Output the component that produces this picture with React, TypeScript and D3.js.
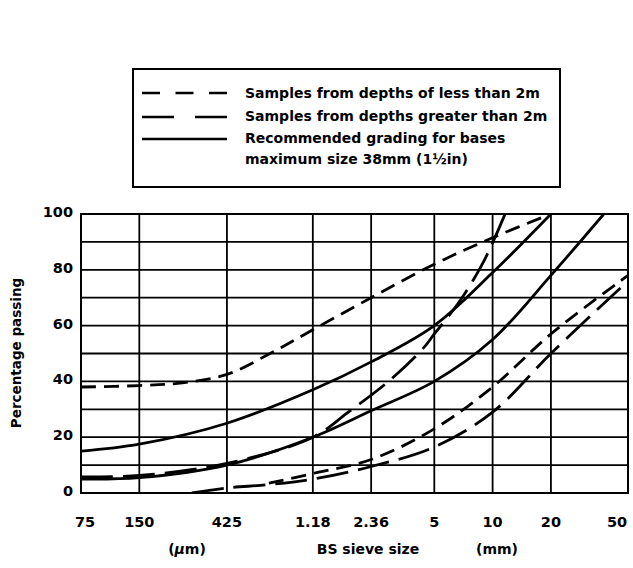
import React from 'react';
import * as d3 from 'd3';

// ---- data ----
const sieveSizes = [0.075, 0.15, 0.425, 1.18, 2.36, 5, 10, 20, 50];
const sieveLabels = ['75', '150', '425', '1.18', '2.36', '5', '10', '20', '50'];
const yTickValues = [0, 20, 40, 60, 80, 100];
const yGridValues = [0, 10, 20, 30, 40, 50, 60, 70, 80, 90, 100];

// Recommended grading (solid)
const upperSolidSize = [0.075, 0.15, 0.425, 1.18, 2.36, 5, 10, 20];
const upperSolidPct = [15, 17.5, 25, 37, 47, 60, 79, 100];
const lowerSolidSize = [0.075, 0.15, 0.425, 1.18, 2.36, 5, 10, 20, 37.5];
const lowerSolidPct = [5, 5.5, 10, 20, 29.5, 40, 55, 78, 100];

// Samples from depths of less than 2m (short dashes)
const shallowUpperSize = [0.075, 0.15, 0.25, 0.425, 0.71, 1.18, 2.36, 5, 10, 20];
const shallowUpperPct = [38, 38.5, 39.5, 42.5, 50, 58.5, 70, 82, 91.5, 100];
const shallowLowerSize = [0.7, 1.18, 2.36, 5, 10, 20, 50];
const shallowLowerPct = [3.5, 7, 12, 23, 38, 57, 78];

// Samples from depths greater than 2m (long dashes)
const deepUpperSize = [0.075, 0.15, 0.425, 1.18, 1.8, 2.9, 4.4, 5, 6.8, 9, 11.6];
const deepUpperPct = [5.8, 6.3, 10.6, 20, 29, 40, 52, 57, 69, 83, 100];
const deepLowerSize = [0.28, 0.425, 0.7, 1.18, 2.36, 5, 10, 20, 50];
const deepLowerPct = [0, 1.8, 3, 5, 9.5, 16.5, 29, 50, 76];

const legendLabels = [
  'Samples from depths of less than 2m',
  'Samples from depths greater than 2m',
  'Recommended grading for bases',
  'maximum size 38mm (1\u00BDin)',
];

const W = 633;
const H = 568;
const plot = { left: 81, right: 628, top: 214, bottom: 493 };
const FONT = '"DejaVu Sans", Verdana, sans-serif';
const SHORT_DASH = '15 8';
const LONG_DASH = '32 10';

export default function App() {
  const x = d3.scaleLog().domain([0.075, 50]).range([plot.left, plot.right]);
  const y = d3.scaleLinear().domain([0, 100]).range([plot.bottom, plot.top]);

  const line = d3
    .line<[number, number]>()
    .x((d) => x(d[0]))
    .y((d) => y(d[1]))
    .curve(d3.curveCatmullRom.alpha(0.5));

  const zip = (s: number[], p: number[]) => s.map((v, i) => [v, p[i]] as [number, number]);

  const curves = [
    { pts: zip(upperSolidSize, upperSolidPct), dash: undefined },
    { pts: zip(lowerSolidSize, lowerSolidPct), dash: undefined },
    { pts: zip(shallowUpperSize, shallowUpperPct), dash: SHORT_DASH },
    { pts: zip(shallowLowerSize, shallowLowerPct), dash: SHORT_DASH },
    { pts: zip(deepUpperSize, deepUpperPct), dash: LONG_DASH },
    { pts: zip(deepLowerSize, deepLowerPct), dash: LONG_DASH },
  ];

  const labelX = (v: number, i: number) => {
    if (i === 0) return x(v) + 4;
    if (i === sieveSizes.length - 1) return x(v) - 11;
    return x(v);
  };

  const legendRows = [
    { y: 93, dash: '18 15.5' },
    { y: 117, dash: '32 21' },
    { y: 139, dash: undefined },
  ];

  return (
    <svg
      width={W}
      height={H}
      viewBox={`0 0 ${W} ${H}`}
      style={{ position: 'absolute', left: 0, top: 0, background: '#fff' }}
      fontFamily={FONT}
      fontWeight="bold"
    >
      <rect x={0} y={0} width={W} height={H} fill="#fff" />
      <defs>
        <clipPath id="plotClip">
          <rect x={plot.left} y={plot.top} width={plot.right - plot.left} height={plot.bottom - plot.top} />
        </clipPath>
      </defs>

      {/* legend */}
      <rect x={133} y={69} width={427} height={118} fill="none" stroke="#000" strokeWidth={2} />
      {legendRows.map((r, i) => (
        <line key={i} x1={142} x2={227} y1={r.y} y2={r.y} stroke="#000" strokeWidth={2.6} strokeDasharray={r.dash} />
      ))}
      <text x={245} y={98} fontSize={14} fill="#000">{legendLabels[0]}</text>
      <text x={245} y={121} fontSize={14} fill="#000">{legendLabels[1]}</text>
      <text x={245} y={143} fontSize={14} fill="#000">{legendLabels[2]}</text>
      <text x={245} y={164} fontSize={14} fill="#000">{legendLabels[3]}</text>

      {/* grid */}
      {yGridValues.map((v) => (
        <line key={'h' + v} x1={plot.left} x2={plot.right} y1={y(v)} y2={y(v)} stroke="#000" strokeWidth={1.8} />
      ))}
      {sieveSizes.map((v) => (
        <line key={'v' + v} x1={x(v)} x2={x(v)} y1={plot.top} y2={plot.bottom} stroke="#000" strokeWidth={1.8} />
      ))}
      <rect
        x={plot.left}
        y={plot.top}
        width={plot.right - plot.left}
        height={plot.bottom - plot.top}
        fill="none"
        stroke="#000"
        strokeWidth={2}
      />

      {/* curves */}
      <g clipPath="url(#plotClip)">
        {curves.map((c, i) => (
          <path
            key={i}
            d={line(c.pts) || ''}
            fill="none"
            stroke="#000"
            strokeWidth={2.8}
            strokeDasharray={c.dash}
          />
        ))}
      </g>

      {/* y axis labels */}
      {yTickValues.map((v) => (
        <text key={'yl' + v} x={73} y={y(v) + 3} fontSize={14.5} textAnchor="end" fill="#000">
          {v}
        </text>
      ))}
      <text transform="translate(21,353) rotate(-90)" fontSize={13.5} textAnchor="middle" fill="#000">
        Percentage passing
      </text>

      {/* x axis labels */}
      {sieveSizes.map((v, i) => (
        <text key={'xl' + v} x={labelX(v, i)} y={527} fontSize={14.5} textAnchor="middle" fill="#000">
          {sieveLabels[i]}
        </text>
      ))}
      <text x={187} y={554} fontSize={14} textAnchor="middle" fill="#000">
        (<tspan fontStyle="italic">μ</tspan>m)
      </text>
      <text x={368} y={554} fontSize={14} textAnchor="middle" fill="#000">
        BS sieve size
      </text>
      <text x={497} y={554} fontSize={14} textAnchor="middle" fill="#000">
        (mm)
      </text>
    </svg>
  );
}
